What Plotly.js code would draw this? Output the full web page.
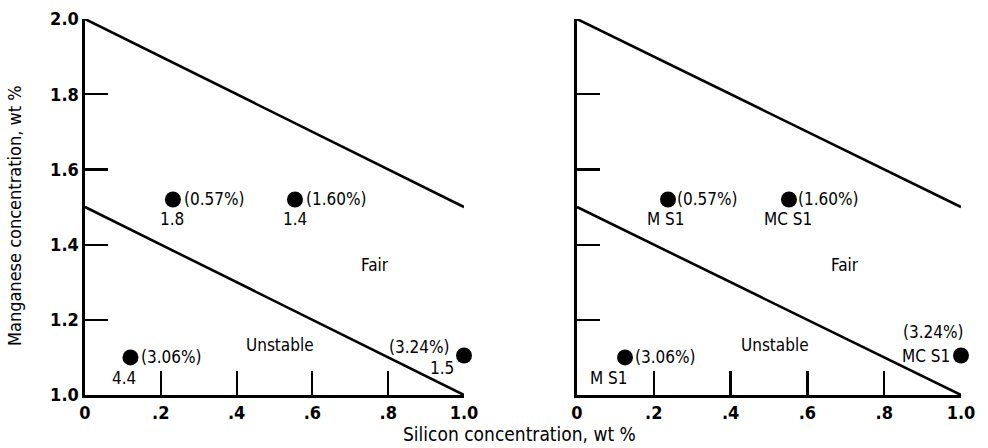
<!DOCTYPE html>
<html>
<head>
<meta charset="utf-8">
<script src="https://cdn.plot.ly/plotly-3.0.1.min.js"></script>
<style>
html,body{margin:0;padding:0;background:#fff;}
#chart{width:988px;height:448px;}
</style>
</head>
<body>
<div id="chart"></div>
<script>
// ---- data ----
const siLeft = [0.232, 0.554, 0.12, 1.0];
const mnLeft = [1.52, 1.52, 1.10, 1.105];
const siRight = [0.237, 0.552, 0.125, 1.0];
const mnRight = [1.52, 1.52, 1.10, 1.105];
const pctLabels = ["(0.57%)", "(1.60%)", "(3.06%)", "(3.24%)"];
const leftCodes = ["1.8", "1.4", "4.4", "1.5"];
const rightCodes = ["M S1", "MC S1", "M S1", "MC S1"];
const boundarySi = [0, 1];
const upperMn = [2.0, 1.5];
const lowerMn = [1.5, 1.0];
const regionNames = ["Fair", "Unstable"];
const regionSiLeft = [0.765, 0.515];
const regionSiRight = [0.698, 0.516];
const regionMn = [1.346, 1.133];
const xTickVals = [0, 0.2, 0.4, 0.6, 0.8, 1.0];
const xTickText = ["0", ".2", ".4", ".6", ".8", "1.0"];
const yTickVals = [1.0, 1.2, 1.4, 1.6, 1.8, 2.0];
const yTickText = ["1.0", "1.2", "1.4", "1.6", "1.8", "2.0"];
const xTitle = "Silicon concentration, wt %";
const yTitle = "Manganese concentration, wt %";

const FONT = "DejaVu Sans Condensed, DejaVu Sans, sans-serif";
const W = 988, H = 448;

function lineTrace(y, xa, ya) {
  return {x: boundarySi, y: y, xaxis: xa, yaxis: ya, mode: 'lines',
          line: {color: '#000', width: 2.6}, hoverinfo: 'skip', showlegend: false};
}
function pointTrace(x, y, xa, ya) {
  return {x: x, y: y, xaxis: xa, yaxis: ya, mode: 'markers', cliponaxis: false,
          marker: {color: '#000', size: 16}, showlegend: false};
}

const data = [
  lineTrace(upperMn, 'x', 'y'), lineTrace(lowerMn, 'x', 'y'),
  lineTrace(upperMn, 'x2', 'y2'), lineTrace(lowerMn, 'x2', 'y2'),
  pointTrace(siLeft, mnLeft, 'x', 'y'),
  pointTrace(siRight, mnRight, 'x2', 'y2')
];

const ann = [];
const tf = {family: FONT, size: 17, color: '#000'};
function add(x, y, xr, yr, text, xanchor, xshift, yshift) {
  ann.push({x: x, y: y, xref: xr, yref: yr, text: text, showarrow: false,
            xanchor: xanchor, yanchor: 'middle', xshift: xshift, yshift: yshift, font: tf});
}
const pctOffL = [['left', 9, 0], ['left', 9, 0], ['left', 9, 0], ['right', -12, 9]];
const codeOffL = [['center', -1, -20], ['center', 0, -20], ['center', -6, -21], ['center', -22, -12]];
const pctOffR = [['left', 7, 0], ['left', 7, 0], ['left', 8, 0], ['center', -28, 24]];
const codeOffR = [['center', -2, -20], ['center', -1, -20], ['center', -16, -21], ['right', -9, 0]];
for (let i = 0; i < siLeft.length; i++) {
  add(siLeft[i], mnLeft[i], 'x', 'y', pctLabels[i], ...pctOffL[i]);
  add(siLeft[i], mnLeft[i], 'x', 'y', leftCodes[i], ...codeOffL[i]);
  add(siRight[i], mnRight[i], 'x2', 'y2', pctLabels[i], ...pctOffR[i]);
  add(siRight[i], mnRight[i], 'x2', 'y2', rightCodes[i], ...codeOffR[i]);
}
for (let i = 0; i < regionNames.length; i++) {
  add(regionSiLeft[i], regionMn[i], 'x', 'y', regionNames[i], 'center', 0, 0);
  add(regionSiRight[i], regionMn[i], 'x2', 'y2', regionNames[i], 'center', 0, 0);
}
// axis titles
ann.push({x: 519.5 / W, y: 1 - 434 / H, xref: 'paper', yref: 'paper', text: xTitle,
          showarrow: false, xanchor: 'center', yanchor: 'middle',
          font: {family: FONT, size: 19, color: '#000'}});
ann.push({x: 14 / W, y: 1 - 216 / H, xref: 'paper', yref: 'paper', text: yTitle,
          textangle: -90, showarrow: false, xanchor: 'center', yanchor: 'middle',
          font: {family: FONT, size: 18, color: '#000'}});

const tickFont = {family: FONT, size: 18, color: '#000', weight: 'bold'};
function xaxis(dom) {
  return {domain: dom, range: [0, 1], showgrid: false, zeroline: false,
          showline: true, linecolor: '#000', linewidth: 2.6,
          ticks: 'inside', ticklen: 24, tickwidth: 2.2, tickcolor: '#000',
          tickvals: xTickVals, ticktext: xTickText, tickfont: tickFont, fixedrange: true};
}
function yaxis(anchor, labels) {
  return {domain: [53 / H, 429 / H], range: [1, 2], anchor: anchor, showgrid: false, zeroline: false,
          showline: true, linecolor: '#000', linewidth: 2.6,
          ticks: 'inside', ticklen: 23, tickwidth: 2.2, tickcolor: '#000',
          tickvals: yTickVals, ticktext: yTickText, tickfont: tickFont,
          showticklabels: labels, fixedrange: true};
}

const layout = {
  width: W, height: H,
  margin: {l: 0, r: 0, t: 0, b: 0},
  paper_bgcolor: '#fff', plot_bgcolor: 'rgba(0,0,0,0)',
  showlegend: false,
  xaxis: Object.assign(xaxis([85 / W, 464 / W]), {anchor: 'y'}),
  yaxis: yaxis('x', true),
  xaxis2: Object.assign(xaxis([577 / W, 961 / W]), {anchor: 'y2'}),
  yaxis2: yaxis('x2', false),
  annotations: ann,
  font: {family: FONT, color: '#000'}
};

Plotly.newPlot('chart', data, layout, {displayModeBar: false, staticPlot: true});
</script>
</body>
</html>
